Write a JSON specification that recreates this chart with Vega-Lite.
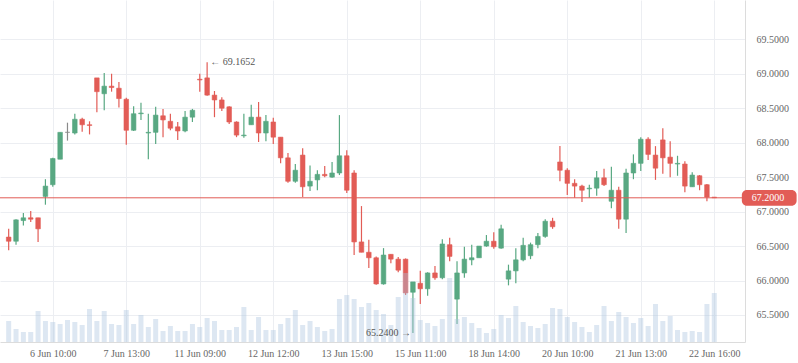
{
  "$schema": "https://vega.github.io/schema/vega-lite/v6.json",
  "width": 745,
  "height": 342,
  "padding": {"left": 0, "top": 0, "right": 53, "bottom": 21},
  "autosize": {"type": "none"},
  "background": "white",
  "config": {"view": {"stroke": null}, "font": "Liberation Serif"},
  "datasets": {
    "ohlc": [
      {"i":0,"t":"5 Jun 11:00","open":66.63,"high":66.75,"low":66.44,"close":66.57,"vol":21},
      {"i":1,"t":"5 Jun 12:00","open":66.57,"high":66.89,"low":66.52,"close":66.88,"vol":13},
      {"i":2,"t":"5 Jun 13:00","open":66.87,"high":66.98,"low":66.80,"close":66.91,"vol":10},
      {"i":3,"t":"5 Jun 14:00","open":66.91,"high":67.01,"low":66.85,"close":66.89,"vol":10},
      {"i":4,"t":"5 Jun 15:00","open":66.91,"high":66.91,"low":66.56,"close":66.75,"vol":31},
      {"i":5,"t":"6 Jun 09:00","open":67.22,"high":67.47,"low":67.10,"close":67.37,"vol":21},
      {"i":6,"t":"6 Jun 10:00","open":67.39,"high":67.78,"low":67.36,"close":67.77,"vol":20},
      {"i":7,"t":"6 Jun 11:00","open":67.76,"high":68.15,"low":67.76,"close":68.15,"vol":18},
      {"i":8,"t":"6 Jun 12:00","open":68.15,"high":68.29,"low":68.03,"close":68.15,"vol":22},
      {"i":9,"t":"6 Jun 13:00","open":68.14,"high":68.42,"low":68.12,"close":68.34,"vol":20},
      {"i":10,"t":"6 Jun 14:00","open":68.34,"high":68.36,"low":68.16,"close":68.26,"vol":17},
      {"i":11,"t":"6 Jun 15:00","open":68.26,"high":68.31,"low":68.12,"close":68.25,"vol":33},
      {"i":12,"t":"7 Jun 09:00","open":68.94,"high":68.94,"low":68.44,"close":68.74,"vol":21},
      {"i":13,"t":"7 Jun 10:00","open":68.71,"high":69.01,"low":68.47,"close":68.82,"vol":31},
      {"i":14,"t":"7 Jun 11:00","open":68.82,"high":69.00,"low":68.74,"close":68.80,"vol":18},
      {"i":15,"t":"7 Jun 12:00","open":68.79,"high":68.88,"low":68.51,"close":68.64,"vol":17},
      {"i":16,"t":"7 Jun 13:00","open":68.63,"high":68.65,"low":67.97,"close":68.18,"vol":32},
      {"i":17,"t":"7 Jun 14:00","open":68.18,"high":68.53,"low":68.17,"close":68.42,"vol":18},
      {"i":18,"t":"7 Jun 15:00","open":68.42,"high":68.58,"low":68.33,"close":68.43,"vol":27},
      {"i":19,"t":"8 Jun 09:00","open":68.14,"high":68.42,"low":67.76,"close":68.15,"vol":15},
      {"i":20,"t":"8 Jun 10:00","open":68.15,"high":68.52,"low":67.98,"close":68.40,"vol":23},
      {"i":21,"t":"8 Jun 11:00","open":68.39,"high":68.49,"low":68.08,"close":68.33,"vol":11},
      {"i":22,"t":"8 Jun 12:00","open":68.31,"high":68.42,"low":68.18,"close":68.21,"vol":16},
      {"i":23,"t":"8 Jun 13:00","open":68.23,"high":68.30,"low":68.04,"close":68.17,"vol":11},
      {"i":24,"t":"8 Jun 14:00","open":68.17,"high":68.46,"low":68.15,"close":68.37,"vol":11},
      {"i":25,"t":"8 Jun 15:00","open":68.37,"high":68.49,"low":68.30,"close":68.47,"vol":18},
      {"i":26,"t":"11 Jun 09:00","open":68.92,"high":69.00,"low":68.74,"close":68.91,"vol":15},
      {"i":27,"t":"11 Jun 10:00","open":68.94,"high":69.1652,"low":68.68,"close":68.69,"vol":24},
      {"i":28,"t":"11 Jun 11:00","open":68.69,"high":68.75,"low":68.37,"close":68.62,"vol":21},
      {"i":29,"t":"11 Jun 12:00","open":68.62,"high":68.66,"low":68.46,"close":68.50,"vol":12},
      {"i":30,"t":"11 Jun 13:00","open":68.52,"high":68.53,"low":68.27,"close":68.30,"vol":12},
      {"i":31,"t":"11 Jun 14:00","open":68.30,"high":68.31,"low":68.08,"close":68.11,"vol":15},
      {"i":32,"t":"11 Jun 15:00","open":68.10,"high":68.42,"low":68.07,"close":68.11,"vol":35},
      {"i":33,"t":"12 Jun 09:00","open":68.26,"high":68.55,"low":68.26,"close":68.37,"vol":12},
      {"i":34,"t":"12 Jun 10:00","open":68.37,"high":68.59,"low":68.01,"close":68.14,"vol":25},
      {"i":35,"t":"12 Jun 11:00","open":68.14,"high":68.40,"low":68.02,"close":68.31,"vol":12},
      {"i":36,"t":"12 Jun 12:00","open":68.30,"high":68.36,"low":67.98,"close":68.08,"vol":12},
      {"i":37,"t":"12 Jun 13:00","open":68.08,"high":68.08,"low":67.70,"close":67.78,"vol":18},
      {"i":38,"t":"12 Jun 14:00","open":67.78,"high":67.85,"low":67.42,"close":67.44,"vol":24},
      {"i":39,"t":"12 Jun 15:00","open":67.44,"high":67.69,"low":67.42,"close":67.60,"vol":32},
      {"i":40,"t":"13 Jun 09:00","open":67.82,"high":67.92,"low":67.21,"close":67.36,"vol":17},
      {"i":41,"t":"13 Jun 10:00","open":67.37,"high":67.67,"low":67.30,"close":67.44,"vol":21},
      {"i":42,"t":"13 Jun 11:00","open":67.46,"high":67.60,"low":67.31,"close":67.54,"vol":15},
      {"i":43,"t":"13 Jun 12:00","open":67.54,"high":67.66,"low":67.50,"close":67.52,"vol":11},
      {"i":44,"t":"13 Jun 13:00","open":67.50,"high":67.72,"low":67.49,"close":67.56,"vol":13},
      {"i":45,"t":"13 Jun 14:00","open":67.56,"high":68.40,"low":67.53,"close":67.81,"vol":43},
      {"i":46,"t":"13 Jun 15:00","open":67.81,"high":67.89,"low":67.27,"close":67.31,"vol":47},
      {"i":47,"t":"14 Jun 09:00","open":67.56,"high":67.60,"low":66.37,"close":66.56,"vol":43},
      {"i":48,"t":"14 Jun 10:00","open":66.56,"high":67.08,"low":66.41,"close":66.41,"vol":35},
      {"i":49,"t":"14 Jun 11:00","open":66.41,"high":66.59,"low":66.18,"close":66.33,"vol":39},
      {"i":50,"t":"14 Jun 12:00","open":66.33,"high":66.35,"low":65.94,"close":65.95,"vol":32},
      {"i":51,"t":"14 Jun 13:00","open":65.95,"high":66.47,"low":65.94,"close":66.37,"vol":28},
      {"i":52,"t":"14 Jun 14:00","open":66.38,"high":66.38,"low":66.25,"close":66.31,"vol":17},
      {"i":53,"t":"14 Jun 15:00","open":66.31,"high":66.34,"low":66.12,"close":66.15,"vol":45},
      {"i":54,"t":"15 Jun 09:00","open":66.31,"high":66.32,"low":65.79,"close":65.82,"vol":69},
      {"i":55,"t":"15 Jun 10:00","open":65.83,"high":65.98,"low":65.24,"close":65.98,"vol":44},
      {"i":56,"t":"15 Jun 11:00","open":65.96,"high":66.14,"low":65.66,"close":65.88,"vol":22},
      {"i":57,"t":"15 Jun 12:00","open":65.88,"high":66.12,"low":65.78,"close":66.11,"vol":19},
      {"i":58,"t":"15 Jun 13:00","open":66.11,"high":66.21,"low":66.01,"close":66.04,"vol":16},
      {"i":59,"t":"15 Jun 14:00","open":66.04,"high":66.60,"low":66.02,"close":66.53,"vol":23},
      {"i":60,"t":"15 Jun 15:00","open":66.52,"high":66.62,"low":66.28,"close":66.35,"vol":64},
      {"i":61,"t":"18 Jun 09:00","open":65.73,"high":66.28,"low":65.37,"close":66.11,"vol":23},
      {"i":62,"t":"18 Jun 10:00","open":66.11,"high":66.49,"low":66.04,"close":66.31,"vol":25},
      {"i":63,"t":"18 Jun 11:00","open":66.30,"high":66.52,"low":66.22,"close":66.33,"vol":19},
      {"i":64,"t":"18 Jun 12:00","open":66.33,"high":66.50,"low":66.33,"close":66.50,"vol":14},
      {"i":65,"t":"18 Jun 13:00","open":66.50,"high":66.66,"low":66.49,"close":66.57,"vol":9},
      {"i":66,"t":"18 Jun 14:00","open":66.57,"high":66.70,"low":66.46,"close":66.49,"vol":13},
      {"i":67,"t":"18 Jun 15:00","open":66.47,"high":66.81,"low":66.46,"close":66.75,"vol":27},
      {"i":68,"t":"19 Jun 09:00","open":66.02,"high":66.23,"low":65.93,"close":66.14,"vol":24},
      {"i":69,"t":"19 Jun 10:00","open":66.14,"high":66.47,"low":65.96,"close":66.30,"vol":36},
      {"i":70,"t":"19 Jun 11:00","open":66.30,"high":66.62,"low":66.28,"close":66.51,"vol":20},
      {"i":71,"t":"19 Jun 12:00","open":66.36,"high":66.55,"low":66.31,"close":66.52,"vol":16},
      {"i":72,"t":"19 Jun 13:00","open":66.52,"high":66.69,"low":66.47,"close":66.64,"vol":14},
      {"i":73,"t":"19 Jun 14:00","open":66.64,"high":66.89,"low":66.62,"close":66.86,"vol":18},
      {"i":74,"t":"19 Jun 15:00","open":66.86,"high":66.91,"low":66.75,"close":66.78,"vol":34},
      {"i":75,"t":"20 Jun 09:00","open":67.72,"high":67.95,"low":67.44,"close":67.60,"vol":33},
      {"i":76,"t":"20 Jun 10:00","open":67.60,"high":67.63,"low":67.24,"close":67.41,"vol":25},
      {"i":77,"t":"20 Jun 11:00","open":67.41,"high":67.47,"low":67.20,"close":67.37,"vol":20},
      {"i":78,"t":"20 Jun 12:00","open":67.37,"high":67.39,"low":67.14,"close":67.31,"vol":15},
      {"i":79,"t":"20 Jun 13:00","open":67.33,"high":67.39,"low":67.20,"close":67.34,"vol":10},
      {"i":80,"t":"20 Jun 14:00","open":67.34,"high":67.59,"low":67.23,"close":67.49,"vol":17},
      {"i":81,"t":"20 Jun 15:00","open":67.49,"high":67.62,"low":67.37,"close":67.39,"vol":36},
      {"i":82,"t":"21 Jun 09:00","open":67.15,"high":67.65,"low":67.05,"close":67.31,"vol":21},
      {"i":83,"t":"21 Jun 10:00","open":67.31,"high":67.36,"low":66.75,"close":66.89,"vol":30},
      {"i":84,"t":"21 Jun 11:00","open":66.89,"high":67.62,"low":66.69,"close":67.56,"vol":25},
      {"i":85,"t":"21 Jun 12:00","open":67.56,"high":67.83,"low":67.47,"close":67.70,"vol":19},
      {"i":86,"t":"21 Jun 13:00","open":67.70,"high":68.08,"low":67.59,"close":68.05,"vol":24},
      {"i":87,"t":"21 Jun 14:00","open":68.05,"high":68.08,"low":67.75,"close":67.83,"vol":16},
      {"i":88,"t":"21 Jun 15:00","open":67.82,"high":67.95,"low":67.46,"close":67.63,"vol":38},
      {"i":89,"t":"22 Jun 09:00","open":68.04,"high":68.21,"low":67.55,"close":67.78,"vol":21},
      {"i":90,"t":"22 Jun 10:00","open":67.79,"high":68.02,"low":67.50,"close":67.70,"vol":26},
      {"i":91,"t":"22 Jun 11:00","open":67.69,"high":67.81,"low":67.52,"close":67.70,"vol":12},
      {"i":92,"t":"22 Jun 12:00","open":67.69,"high":67.73,"low":67.28,"close":67.37,"vol":10},
      {"i":93,"t":"22 Jun 13:00","open":67.36,"high":67.57,"low":67.36,"close":67.53,"vol":11},
      {"i":94,"t":"22 Jun 14:00","open":67.52,"high":67.53,"low":67.31,"close":67.39,"vol":10},
      {"i":95,"t":"22 Jun 15:00","open":67.39,"high":67.40,"low":67.15,"close":67.21,"vol":38},
      {"i":96,"t":"22 Jun 16:00","open":67.21,"high":67.21,"low":67.20,"close":67.20,"vol":49}
    ]
  },
  "layer": [
    {
      "data": {"name": "ohlc"},
      "mark": {"type": "rule", "strokeWidth": 1.2},
      "encoding": {
        "x": {
          "field": "i", "type": "quantitative",
          "scale": {"domain": [-0.5, 99.5], "nice": false, "zero": false},
          "axis": {
            "title": null, "values": [6, 16, 26, 36, 46, 56, 66, 76, 86, 96],
            "labelExpr": "['6 Jun 10:00','7 Jun 13:00','11 Jun 09:00','12 Jun 12:00','13 Jun 15:00','15 Jun 11:00','18 Jun 14:00','20 Jun 10:00','21 Jun 13:00','22 Jun 16:00'][round((datum.value-6)/10)]",
            "grid": true, "gridColor": "#eceef2", "gridWidth": 1,
            "domainColor": "#dcdcdc", "ticks": false, "labelPadding": 6,
            "labelColor": "#666666", "labelFontSize": 10, "labelFont": "Liberation Serif", "labelFlush": false
          }
        },
        "y": {
          "field": "low", "type": "quantitative",
          "scale": {"domain": [65.108, 70.07], "nice": false, "zero": false},
          "axis": {
            "orient": "right", "title": null, "values": [65.5, 66, 66.5, 67, 67.5, 68, 68.5, 69, 69.5],
            "format": ".4f", "grid": true, "gridColor": "#eceef2", "gridWidth": 1,
            "domainColor": "#dcdcdc", "ticks": false, "labelPadding": 11,
            "labelColor": "#666666", "labelFontSize": 10, "labelFont": "Liberation Serif"
          }
        },
        "y2": {"field": "high"},
        "color": {
          "condition": [
            {"test": "datum.close > datum.open", "value": "#58a882"},
            {"test": "datum.close == datum.open", "value": "#8a8a8a"}
          ],
          "value": "#e25c56"
        }
      }
    },
    {
      "data": {"name": "ohlc"},
      "mark": {"type": "bar", "orient": "vertical", "width": 4.6, "strokeWidth": 0.6},
      "encoding": {
        "x": {"field": "i", "type": "quantitative"},
        "y": {"field": "open", "type": "quantitative", "scale": {"domain": [65.108, 70.07], "nice": false, "zero": false}, "axis": null},
        "y2": {"field": "close"},
        "color": {
          "condition": [
            {"test": "datum.close > datum.open", "value": "#58a882"},
            {"test": "datum.close == datum.open", "value": "#8a8a8a"}
          ],
          "value": "#e25c56"
        },
        "stroke": {
          "condition": [
            {"test": "datum.close > datum.open", "value": "#58a882"},
            {"test": "datum.close == datum.open", "value": "#8a8a8a"}
          ],
          "value": "#e25c56"
        }
      }
    },
    {
      "data": {"name": "ohlc"},
      "mark": {"type": "bar", "orient": "vertical", "width": 5, "color": "#a9c4df", "opacity": 0.4},
      "encoding": {
        "x": {"field": "i", "type": "quantitative"},
        "y": {"field": "vol", "type": "quantitative", "scale": {"domain": [0, 342], "nice": false, "zero": true}, "axis": null}
      }
    },
    {
      "data": {"values": [{"price": 67.2}]},
      "mark": {"type": "rule", "color": "#e25c56", "strokeWidth": 1},
      "encoding": {
        "y": {"field": "price", "type": "quantitative", "scale": {"domain": [65.108, 70.07], "nice": false, "zero": false}, "axis": null}
      }
    },
    {
      "data": {"values": [{"i": 27, "price": 69.1652, "label": "← 69.1652"}]},
      "mark": {"type": "text", "align": "left", "baseline": "middle", "dx": 3, "fontSize": 10, "color": "#555555", "font": "Liberation Serif"},
      "encoding": {
        "x": {"field": "i", "type": "quantitative"},
        "y": {"field": "price", "type": "quantitative", "scale": {"domain": [65.108, 70.07], "nice": false, "zero": false}, "axis": null},
        "text": {"field": "label"}
      }
    },
    {
      "data": {"values": [{"i": 55, "price": 65.24, "label": "65.2400 →"}]},
      "mark": {"type": "text", "align": "right", "baseline": "middle", "dx": -2, "fontSize": 10, "color": "#555555", "font": "Liberation Serif"},
      "encoding": {
        "x": {"field": "i", "type": "quantitative"},
        "y": {"field": "price", "type": "quantitative", "scale": {"domain": [65.108, 70.07], "nice": false, "zero": false}, "axis": null},
        "text": {"field": "label"}
      }
    },
    {
      "data": {"values": [{"x0": 99.75, "x1": 107.2, "lo": 67.085, "hi": 67.315}]},
      "mark": {"type": "rect", "color": "#e25c56", "cornerRadius": 5},
      "encoding": {
        "x": {"field": "x0", "type": "quantitative"},
        "x2": {"field": "x1"},
        "y": {"field": "lo", "type": "quantitative", "scale": {"domain": [65.108, 70.07], "nice": false, "zero": false}, "axis": null},
        "y2": {"field": "hi"}
      }
    },
    {
      "data": {"values": [{"x0": 101.1, "price": 67.2, "label": "67.2000"}]},
      "mark": {"type": "text", "align": "left", "baseline": "middle", "fontSize": 10, "color": "white", "font": "Liberation Serif"},
      "encoding": {
        "x": {"field": "x0", "type": "quantitative"},
        "y": {"field": "price", "type": "quantitative", "scale": {"domain": [65.108, 70.07], "nice": false, "zero": false}, "axis": null},
        "text": {"field": "label"}
      }
    }
  ],
  "resolve": {"scale": {"y": "independent"}}
}
